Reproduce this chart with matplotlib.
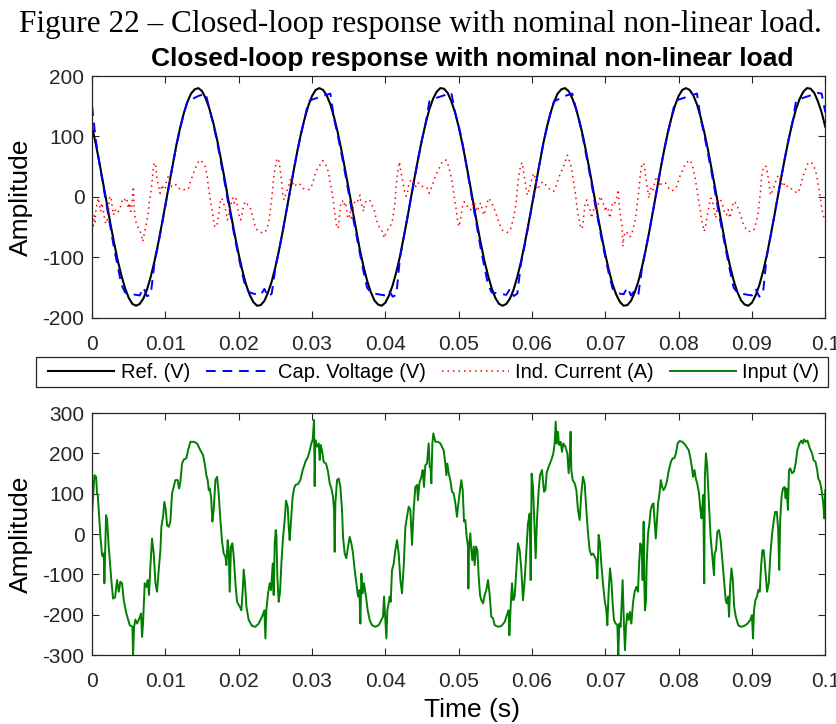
import numpy as np
import matplotlib
matplotlib.use("Agg")
import matplotlib.pyplot as plt
from matplotlib.patches import Rectangle

plt.rcParams.update({
    'font.family': ['Liberation Sans', 'DejaVu Sans'],
    'axes.unicode_minus': False,
    'axes.edgecolor': '#262626',
    'axes.linewidth': 0.9,
    'xtick.color': '#262626',
    'ytick.color': '#262626',
    'xtick.direction': 'in',
    'ytick.direction': 'in',
    'xtick.labelsize': 15,
    'ytick.labelsize': 15,
})

# sample step for ref / cap voltage: 0.5 ms
step_s = 0.0005

# reference voltage (V), one value every 0.5 ms from 0 to 0.1 s
ref_first = [116, 88, 57, 24, -10, -44, -76, -105, -130, -151, -167, -177, -180, -177, -168,
             -153, -132, -107, -78, -46, -13, 21, 54, 86, 114, 138, 157, 171, 178, 180,
             175, 163, 146, 124, 98, 67, 35, 1, -33, -65, -95, -122, -145, -162, -174,
             -180, -179, -172, -158, -140, -116, -88, -57, -24, 10, 44, 76, 105, 130, 151,
             167, 177, 180, 177, 168, 153, 132, 107, 78, 46, 13, -21, -54, -86, -114,
             -138, -157, -171, -178, -180, -175, -163, -146, -124, -98, -67, -35, -1, 33, 65,
             95, 122, 145, 162, 174, 180, 179, 172, 158, 140]
ref_second = [116, 88, 57, 24, -10, -44, -76, -105, -130, -151, -167, -177, -180, -177, -168,
              -153, -132, -107, -78, -46, -13, 21, 54, 86, 114, 138, 157, 171, 178, 180,
              175, 163, 146, 124, 98, 67, 35, 1, -33, -65, -95, -122, -145, -162, -174,
              -180, -179, -172, -158, -140, -116, -88, -57, -24, 10, 44, 76, 105, 130, 151,
              167, 177, 180, 177, 168, 153, 132, 107, 78, 46, 13, -21, -54, -86, -114,
              -138, -157, -171, -178, -180, -175, -163, -146, -124, -98, -67, -35, -1, 33, 65,
              95, 122, 145, 162, 174, 180, 179, 172, 158, 140, 116]

# capacitor voltage (V), same sampling
cap_first = [150, 95, 55, 20, -15, -50, -85, -115, -145, -158, -160, -161, -162, -163, -150,
             -164, -162, -110, -80, -48, -14, 20, 53, 85, 113, 137, 158, 161, 164, 167,
             169, 171, 146, 122, 94, 62, 30, -5, -38, -70, -100, -128, -152, -158, -160,
             -161, -162, -152, -165, -160, -118, -88, -57, -24, 10, 44, 76, 105, 130, 158,
             161, 163, 165, 167, 169, 171, 130, 102, 72, 40, 6, -28, -60, -92, -122,
             -150, -158, -160, -161, -162, -163, -155, -165, -162, -100, -67, -35, -1, 33, 65,
             95, 122, 158, 162, 164, 166, 168, 170, 172, 140]
cap_second = [118, 90, 55, 20, -15, -50, -85, -115, -145, -158, -159, -160, -161, -162, -152,
              -164, -160, -110, -80, -48, -14, 20, 53, 85, 113, 137, 158, 161, 164, 167,
              169, 171, 146, 122, 94, 62, 30, -5, -38, -70, -100, -128, -152, -158, -160,
              -161, -150, -163, -155, -162, -118, -88, -57, -24, 10, 44, 76, 105, 130, 158,
              161, 163, 165, 167, 169, 171, 130, 102, 72, 40, 6, -28, -60, -92, -122,
              -150, -158, -160, -161, -162, -163, -152, -165, -160, -100, -67, -35, -1, 33, 65,
              95, 122, 158, 162, 164, 166, 168, 170, 172, 171, 140]

# inductor current (A): (time in ms, value)
current_pts = [
    (0.00, -38), (0.14, -52), (0.27, -30), (0.41, -41), (0.55, -19), (0.73, -8), (0.86, -2),
    (1.00, -13), (1.18, -24), (1.32, -10), (1.55, -24), (1.77, -41), (2.00, -44), (2.23, -24),
    (2.36, -2), (2.55, 1), (2.68, -10), (2.91, -30), (3.14, -21), (3.36, -27), (3.59, -24),
    (3.82, -19), (4.05, -8), (4.27, -2), (4.50, -5), (4.73, -2), (4.95, -19), (5.09, -10),
    (5.27, -24), (5.41, -13), (5.55, 6), (5.64, 17), (5.73, -16), (5.86, -35), (6.09, -46),
    (6.32, -52), (6.55, -57), (6.77, -66), (6.91, -74), (7.09, -63), (7.23, -55), (7.45, -41),
    (7.68, -24), (7.82, -8), (8.00, 6), (8.14, 20), (8.27, 39), (8.36, 50), (8.50, 56),
    (8.64, 56), (8.73, 47), (8.82, 34), (8.95, 25), (9.09, 17), (9.27, 6), (9.41, 12),
    (9.55, 20), (9.73, 12), (9.95, 14), (10.18, 28), (10.41, 34), (10.64, 25), (10.86, 17),
    (11.09, 20), (11.55, 20), (11.77, 17), (12.00, 12), (12.45, 12), (12.91, 12), (13.14, 13),
    (13.36, 23), (13.59, 31), (13.82, 39), (14.18, 50), (14.50, 58), (14.86, 61), (15.09, 56),
    (15.41, 50), (15.64, 39), (15.77, 28), (15.86, 17), (16.00, 6), (16.18, -10), (16.36, -21),
    (16.55, -38), (16.73, -49), (16.91, -50), (17.09, -44), (17.23, -33), (17.36, -21),
    (17.45, -10), (17.64, -2), (17.82, -5), (18.00, -13), (18.27, -24), (18.45, -38),
    (18.64, -33), (18.82, -19), (19.05, -8), (19.18, -2), (19.36, -10), (19.64, -2),
    (19.82, -16), (20.05, -30), (20.27, -38), (20.45, -30), (20.64, -16), (20.86, -8),
    (21.00, -8), (21.23, -13), (21.45, -16), (21.68, -21), (21.91, -33), (22.14, -44),
    (22.36, -52), (22.68, -57), (23.14, -59), (23.59, -59), (23.91, -50), (24.18, -35),
    (24.32, -21), (24.50, -2), (24.64, 14), (24.73, 28), (24.86, 39), (25.00, 50), (25.18, 61),
    (25.36, 64), (25.55, 56), (25.64, 47), (25.73, 39), (25.86, 25), (26.00, 6), (26.18, -5),
    (26.32, 1), (26.55, 9), (26.77, 17), (27.00, 28), (27.18, 34), (27.36, 23), (27.55, 17),
    (27.82, 20), (28.14, 23), (28.45, 20), (28.82, 14), (29.18, 12), (29.50, 12), (29.82, 14),
    (30.09, 23), (30.27, 31), (30.45, 39), (30.73, 47), (31.09, 53), (31.45, 60), (31.77, 56),
    (32.09, 47), (32.27, 39), (32.45, 25), (32.68, 12), (32.91, -8), (33.14, -30), (33.36, -49),
    (33.57, -52), (33.70, -35), (33.84, -24), (33.93, -8), (34.11, -8), (34.29, -5),
    (34.47, -16), (34.61, -13), (34.75, -24), (34.84, -35), (35.07, -35), (35.20, -24),
    (35.38, -35), (35.52, -30), (35.66, -13), (35.84, -8), (35.97, -10), (36.20, -8),
    (36.43, 1), (36.57, 3), (36.66, -10), (36.88, -16), (37.02, -24), (37.11, -13),
    (37.34, -8), (37.57, -5), (37.79, -5), (38.02, -8), (38.25, -16), (38.47, -21),
    (38.70, -33), (38.93, -44), (39.16, -50), (39.38, -55), (39.61, -57), (39.84, -68),
    (40.07, -60), (40.29, -55), (40.52, -52), (40.75, -46), (40.97, -38), (41.11, -27),
    (41.25, -16), (41.38, 3), (41.52, 23), (41.66, 39), (41.79, 50), (41.93, 58), (42.02, 50),
    (42.11, 42), (42.25, 34), (42.38, 25), (42.57, 12), (42.70, 6), (42.84, 1), (43.02, 6),
    (43.11, 17), (43.25, 20), (43.47, 28), (43.70, 23), (43.93, 25), (44.16, 17), (44.38, 23),
    (44.61, 23), (44.84, 20), (45.07, 17), (45.52, 17), (45.75, 14), (45.97, 6), (46.20, 12),
    (46.43, 20), (46.66, 28), (46.88, 36), (47.11, 42), (47.34, 47), (47.57, 55), (47.79, 58),
    (48.02, 61), (48.25, 61), (48.47, 56), (48.70, 47), (48.84, 39), (49.02, 31), (49.16, 20),
    (49.29, 9), (49.47, -5), (49.66, -21), (49.84, -38), (50.02, -49), (50.20, -41),
    (50.38, -27), (50.52, -16), (50.75, -8), (50.97, -10), (51.20, -16), (51.43, -21),
    (51.66, -21), (51.88, -13), (52.11, -8), (52.34, -19), (52.57, -24), (52.79, -13),
    (53.02, -10), (53.25, -24), (53.47, -30), (53.70, -19), (53.93, -8), (54.16, -2),
    (54.38, -8), (54.61, -13), (54.84, -19), (55.07, -27), (55.29, -35), (55.52, -44),
    (55.75, -49), (55.97, -55), (56.20, -57), (56.57, -59), (56.88, -57), (57.11, -52),
    (57.34, -41), (57.57, -30), (57.79, -13), (57.93, 3), (58.02, 17), (58.16, 31), (58.29, 42),
    (58.47, 53), (58.66, 57), (58.79, 45), (58.93, 36), (59.07, 25), (59.20, 12), (59.38, 3),
    (59.61, 12), (59.84, 23), (60.07, 34), (60.29, 39), (60.43, 31), (60.57, 20), (60.75, 12),
    (60.97, 17), (61.20, 23), (61.57, 25), (61.88, 20), (62.20, 14), (62.57, 12), (62.93, 9),
    (63.25, 17), (63.47, 25), (63.70, 34), (63.93, 39), (64.16, 47), (64.38, 53), (64.61, 61),
    (64.84, 69), (65.07, 61), (65.29, 53), (65.47, 42), (65.66, 25), (65.84, 12), (66.02, -5),
    (66.20, -24), (66.43, -38), (66.66, -52), (66.85, -52), (66.98, -41), (67.12, -24),
    (67.30, -8), (67.48, -5), (67.66, -16), (67.89, -21), (68.12, -35), (68.35, -24),
    (68.57, -13), (68.80, -21), (69.03, -13), (69.25, -2), (69.39, 1), (69.57, -10),
    (69.85, -13), (70.03, -24), (70.16, -16), (70.39, -21), (70.62, -35), (70.75, -27),
    (70.94, -13), (71.07, -8), (71.30, -10), (71.53, -2), (71.66, 6), (71.75, 12), (71.85, -5),
    (71.98, -24), (72.12, -35), (72.30, -49), (72.39, -82), (72.53, -66), (72.66, -60),
    (72.89, -57), (73.12, -63), (73.35, -66), (73.57, -63), (73.80, -52), (74.03, -41),
    (74.25, -24), (74.39, -8), (74.53, 6), (74.66, 23), (74.80, 39), (74.94, 50), (75.07, 56),
    (75.21, 56), (75.35, 50), (75.44, 39), (75.57, 28), (75.71, 17), (75.85, 6), (75.94, -2),
    (76.12, 12), (76.30, 17), (76.53, 12), (76.75, 25), (76.98, 34), (77.21, 28), (77.44, 17),
    (77.66, 23), (77.89, 23), (78.21, 23), (78.48, 17), (78.80, 12), (79.03, 10), (79.39, 12),
    (79.71, 17), (79.94, 25), (80.16, 34), (80.39, 39), (80.62, 47), (80.94, 55), (81.21, 58),
    (81.53, 61), (81.75, 56), (81.98, 47), (82.12, 39), (82.30, 28), (82.44, 17), (82.57, 6),
    (82.75, -8), (82.94, -21), (83.12, -38), (83.35, -49), (83.48, -57), (83.66, -49),
    (83.85, -35), (84.03, -24), (84.21, -10), (84.39, -2), (84.57, -5), (84.75, -16),
    (84.94, -27), (85.07, -35), (85.21, -21), (85.39, -5), (85.62, -2), (85.85, -8),
    (86.07, -16), (86.30, -27), (86.53, -30), (86.75, -21), (86.98, -35), (87.21, -24),
    (87.44, -8), (87.66, -8), (87.89, -13), (88.12, -19), (88.35, -27), (88.57, -35),
    (88.80, -44), (89.03, -49), (89.25, -55), (89.57, -57), (89.94, -57), (90.25, -55),
    (90.48, -46), (90.75, -33), (90.94, -16), (91.07, -2), (91.21, 14), (91.30, 31), (91.44, 42),
    (91.57, 50), (91.75, 51), (91.98, 50), (92.12, 39), (92.25, 28), (92.39, 17), (92.53, 3),
    (92.66, 6), (92.89, 12), (93.12, 23), (93.35, 28), (93.57, 36), (93.80, 31), (94.03, 23),
    (94.25, 17), (94.48, 23), (94.85, 17), (95.16, 17), (95.48, 12), (95.85, 9), (96.21, 6),
    (96.53, 14), (96.75, 25), (96.98, 34), (97.21, 42), (97.43, 50), (97.66, 56), (97.89, 56),
    (98.12, 57), (98.35, 53), (98.57, 47), (98.75, 39), (98.94, 28), (99.12, 14), (99.30, 1),
    (99.48, -16), (99.71, -30), (99.94, -38),
]

# input voltage (V): (time in ms, value)
input_pts = [
    (0.00, 51), (0.32, 146), (0.55, 142), (0.68, 101), (0.77, 97), (0.91, 60), (1.14, -7),
    (1.36, -52), (1.50, -56), (1.59, -48), (1.68, -122), (1.77, -56), (1.91, 47), (2.05, 35),
    (2.27, -31), (2.59, -106), (2.86, -160), (3.14, -157), (3.41, -114), (3.64, -143),
    (3.86, -118), (4.09, -122), (4.32, -164), (4.68, -197), (5.14, -226), (5.50, -230),
    (5.59, -300), (5.73, -230), (5.91, -212), (6.14, -222), (6.45, -209), (6.68, -197),
    (6.82, -255), (6.95, -222), (7.18, -122), (7.41, -131), (7.59, -114), (7.77, -151),
    (7.95, -81), (8.18, -11), (8.41, -48), (8.64, -122), (8.86, -143), (9.09, -89), (9.32, -40),
    (9.45, 18), (9.68, 43), (9.86, 80), (10.05, 60), (10.23, 22), (10.45, 18), (10.68, 31),
    (10.91, 101), (11.36, 134), (11.68, 134), (11.86, 113), (12.05, 130), (12.27, 175),
    (12.50, 185), (12.86, 188), (13.09, 208), (13.41, 229), (13.86, 229), (14.32, 225),
    (14.77, 208), (15.14, 196), (15.36, 175), (15.59, 146), (15.77, 134), (15.91, 109),
    (16.05, 113), (16.23, 93), (16.41, 31), (16.59, 60), (16.82, 134), (17.05, 142),
    (17.27, 101), (17.50, 35), (17.73, -19), (17.95, -48), (18.18, -56), (18.32, -77),
    (18.50, -15), (18.64, -40), (18.77, -143), (18.95, -31), (19.14, -23), (19.32, -56),
    (19.55, -122), (19.77, -168), (20.14, -180), (20.36, -189), (20.55, -139), (20.68, -88),
    (20.86, -122), (21.05, -180), (21.36, -213), (21.82, -228), (22.27, -230), (22.73, -222),
    (23.18, -205), (23.50, -189), (23.64, -259), (23.77, -189), (24.00, -147), (24.23, -122),
    (24.41, -139), (24.64, -73), (24.77, -151), (24.91, -23), (25.05, 10), (25.14, -2),
    (25.27, -106), (25.45, -168), (25.64, -143), (25.82, -73), (26.05, -7), (26.27, 35),
    (26.45, 83), (26.68, 68), (26.82, 18), (26.95, -15), (27.14, 35), (27.36, 93), (27.55, 113),
    (27.73, 122), (28.09, 124), (28.41, 134), (28.73, 159), (29.09, 179), (29.45, 192),
    (29.64, 204), (29.91, 225), (30.09, 235), (30.27, 283), (30.36, 119), (30.45, 233),
    (30.68, 217), (30.91, 225), (31.05, 184), (31.18, 221), (31.36, 208), (31.59, 179),
    (31.91, 175), (32.18, 155), (32.41, 126), (32.64, 113), (32.86, 93), (33.00, 60),
    (33.09, -44), (33.18, 76), (33.41, 134), (33.64, 138), (33.86, 117), (34.09, 60),
    (34.23, -7), (34.45, -48), (34.68, -60), (34.91, -31), (35.14, -7), (35.36, -23),
    (35.59, -48), (35.82, -89), (36.05, -122), (36.27, -155), (36.45, -139), (36.59, -222),
    (36.73, -98), (36.91, -147), (37.09, -122), (37.36, -155), (37.59, -189), (37.86, -213),
    (38.18, -226), (38.64, -230), (39.09, -226), (39.45, -213), (39.68, -205), (39.82, -155),
    (40.00, -213), (40.14, -259), (40.27, -189), (40.45, -172), (40.59, -155), (40.73, -168),
    (40.91, -89), (41.14, -73), (41.36, -40), (41.59, -15), (41.82, -48), (42.05, -114),
    (42.27, -147), (42.50, -81), (42.73, 18), (42.95, 43), (43.18, 68), (43.41, 60),
    (43.64, -27), (43.86, 60), (44.09, 117), (44.32, 122), (44.45, 84), (44.64, 126),
    (44.91, 142), (45.09, 159), (45.27, 117), (45.45, 171), (45.68, 175), (45.91, 225),
    (46.05, 167), (46.18, 163), (46.27, 126), (46.41, 225), (46.55, 250), (46.82, 229),
    (47.18, 229), (47.50, 225), (47.95, 208), (48.18, 175), (48.32, 146), (48.45, 175),
    (48.64, 151), (48.86, 134), (49.09, 105), (49.32, 101), (49.55, 76), (49.77, 43),
    (49.91, 68), (50.18, 109), (50.36, 134), (50.55, 109), (50.73, 31), (50.91, 35),
    (51.09, -7), (51.27, -31), (51.32, -135), (51.41, -31), (51.59, 2), (51.73, -40),
    (51.86, -65), (52.05, -31), (52.18, -77), (52.36, -31), (52.55, -40), (52.73, -106),
    (52.91, -151), (53.09, -164), (53.32, -172), (53.55, -151), (53.77, -139), (54.00, -114),
    (54.23, -151), (54.45, -205), (54.68, -209), (54.91, -226), (55.36, -230), (55.82, -228),
    (56.27, -218), (56.64, -197), (56.82, -189), (56.91, -251), (57.09, -180), (57.27, -122),
    (57.45, -164), (57.64, -155), (57.86, -89), (58.09, -23), (58.32, -40), (58.55, -89),
    (58.77, -164), (59.00, -114), (59.23, -40), (59.45, 26), (59.68, 51), (59.82, -114),
    (59.95, 150), (60.14, 117), (60.36, 10), (60.50, -60), (60.68, 35), (60.91, 109),
    (61.09, 146), (61.36, 159), (61.64, 105), (61.82, 109), (62.00, 151), (62.27, 167),
    (62.64, 184), (62.91, 200), (63.09, 225), (63.23, 279), (63.36, 225), (63.55, 254),
    (63.68, 221), (63.91, 229), (64.09, 204), (64.27, 225), (64.55, 217), (64.82, 200),
    (65.00, 151), (65.14, 188), (65.27, 254), (65.36, 159), (65.55, 134), (65.82, 126),
    (66.05, 109), (66.27, 60), (66.50, 35), (66.73, 101), (66.95, 142), (67.18, 126),
    (67.41, 60), (67.64, 2), (67.86, -40), (68.09, -52), (68.32, -48), (68.55, -56),
    (68.77, -65), (68.91, -110), (69.09, -2), (69.27, -23), (69.45, -73), (69.68, -122),
    (69.91, -164), (70.14, -189), (70.27, -226), (70.45, -143), (70.64, -85), (70.82, -114),
    (71.00, -172), (71.18, -213), (71.41, -222), (71.64, -226), (71.77, -300), (71.91, -222),
    (72.09, -230), (72.36, -114), (72.55, -230), (72.68, -288), (72.82, -230), (73.00, -197),
    (73.18, -213), (73.36, -193), (73.55, -222), (73.77, -172), (74.00, -143), (74.23, -131),
    (74.45, -143), (74.59, -81), (74.77, -23), (74.95, -31), (75.09, -114), (75.23, 31),
    (75.32, -122), (75.41, -189), (75.55, -164), (75.64, -73), (75.83, 2), (76.01, 26),
    (76.19, 60), (76.38, 72), (76.56, 76), (76.74, 26), (76.88, -11), (77.02, 26), (77.20, 76),
    (77.39, 101), (77.57, 134), (77.75, 117), (77.94, 109), (78.17, 117), (78.39, 130),
    (78.62, 155), (78.94, 179), (79.17, 188), (79.40, 188), (79.63, 200), (79.86, 225),
    (80.14, 231), (80.50, 229), (80.92, 221), (81.38, 208), (81.61, 188), (81.83, 163),
    (81.97, 142), (82.16, 159), (82.34, 138), (82.52, 126), (82.75, 105), (82.98, 60),
    (83.12, 39), (83.21, 60), (83.35, 97), (83.49, -122), (83.58, 142), (83.72, 200),
    (83.90, 167), (84.13, 76), (84.36, -7), (84.59, -56), (84.82, -102), (84.91, -48),
    (85.09, -40), (85.28, 6), (85.50, 10), (85.73, -15), (85.96, -65), (86.19, -114),
    (86.42, -164), (86.56, -172), (86.74, -155), (86.88, -205), (87.02, -131), (87.20, -85),
    (87.39, -114), (87.57, -180), (87.80, -205), (88.12, -226), (88.49, -230), (88.94, -228),
    (89.40, -222), (89.77, -213), (90.00, -201), (90.14, -259), (90.28, -189), (90.46, -164),
    (90.69, -155), (90.87, -139), (91.06, -143), (91.24, -81), (91.42, -40), (91.61, -40),
    (91.79, -81), (92.06, -143), (92.29, -122), (92.52, -48), (92.75, 2), (92.98, 35),
    (93.17, 55), (93.39, 55), (93.58, 10), (93.72, -89), (93.85, 35), (94.04, 93), (94.22, 113),
    (94.45, 117), (94.59, 89), (94.72, 113), (94.91, 60), (95.05, 159), (95.23, 163),
    (95.46, 151), (95.73, 155), (95.96, 175), (96.19, 208), (96.47, 225), (96.74, 232),
    (96.93, 225), (97.11, 235), (97.34, 229), (97.57, 232), (97.89, 213), (98.21, 200),
    (98.39, 184), (98.67, 179), (98.90, 159), (99.04, 138), (99.27, 130), (99.50, 109),
    (99.72, 76), (99.86, 39), (100.00, 109),
]

x_ticks = [0, 0.01, 0.02, 0.03, 0.04, 0.05, 0.06, 0.07, 0.08, 0.09, 0.1]
x_labels = ['0', '0.01', '0.02', '0.03', '0.04', '0.05', '0.06', '0.07', '0.08', '0.09', '0.1']
top_yticks = [-200, -100, 0, 100, 200]
bottom_yticks = [-300, -200, -100, 0, 100, 200, 300]

ref = np.array(ref_first + ref_second)
cap = np.array(cap_first + cap_second)
t_grid = np.arange(len(ref)) * step_s
cur_t, cur_v = zip(*current_pts)
inp_t, inp_v = zip(*input_pts)
cur_t = np.array(cur_t) / 1000.0
inp_t = np.array(inp_t) / 1000.0

fig = plt.figure(figsize=(8.37, 7.24), dpi=100)
ax1 = fig.add_axes([0.110, 0.561, 0.876, 0.334])
ax2 = fig.add_axes([0.110, 0.0953, 0.876, 0.334])

l_ref, = ax1.plot(t_grid, ref, color='black', lw=1.5, label='Ref. (V)')
l_cap, = ax1.plot(t_grid, cap, color='#0000ff', lw=1.4, linestyle=(0, (5, 3.5)),
                  label='Cap. Voltage (V)')
l_cur, = ax1.plot(cur_t, cur_v, color='#ff0000', lw=1.1, linestyle=(0, (1, 2.6)),
                  label='Ind. Current (A)')
l_inp, = ax2.plot(inp_t, inp_v, color='#007f00', lw=1.4, label='Input (V)')

for ax, yt in [(ax1, top_yticks), (ax2, bottom_yticks)]:
    ax.set_xlim(0, 0.1)
    ax.set_ylim(yt[0], yt[-1])
    ax.set_xticks(x_ticks)
    ax.set_xticklabels(x_labels)
    ax.set_yticks(yt)
    ax.set_yticklabels([str(v) for v in yt])
    ax.tick_params(top=True, right=True, length=5, width=0.8)
    ax.tick_params(axis='x', pad=12)
    ax.tick_params(axis='y', pad=5.5)
    ax.set_ylabel('Amplitude', fontsize=19)
    ax.yaxis.set_label_coords(-0.0805, 0.5)

ax2.set_xlabel('Time (s)', fontsize=19)
ax2.xaxis.set_label_coords(0.518, -0.178)

fig.text(0.564, 0.918, 'Closed-loop response with nominal non-linear load',
         ha='center', va='center', fontsize=19, fontweight='bold')
fig.text(0.502, 0.966, 'Figure 22 \u2013 Closed-loop response with nominal non-linear load.',
         ha='center', va='center', fontsize=22.5, family='Liberation Serif')

# legend box drawn separately so its border can sit wider than the entries
leg = fig.legend(handles=[l_ref, l_cap, l_cur, l_inp], loc='center', ncol=4,
                 bbox_to_anchor=(0.518, 0.486), fontsize=14.5, frameon=False,
                 handlelength=3.3, handletextpad=0.3, columnspacing=0.8,
                 borderpad=0.25, borderaxespad=0)
fig.patches.append(Rectangle((0.043, 0.4655), 0.946, 0.0414, transform=fig.transFigure,
                             facecolor='none', edgecolor='#262626', lw=0.9))

fig.savefig('out.png', dpi=100, facecolor='white')
